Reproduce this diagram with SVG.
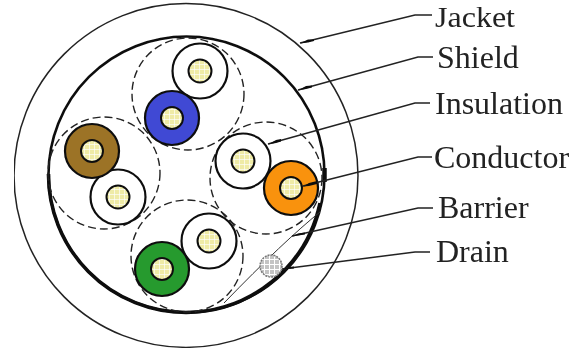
<svg xmlns="http://www.w3.org/2000/svg" width="586" height="350" viewBox="0 0 586 350">
<style>
text{font-family:"Liberation Serif","Times New Roman",serif;font-size:32px;fill:#222}
.dash{fill:none;stroke:#222;stroke-width:1.4;stroke-dasharray:8 4}
.wire{stroke:#111;stroke-width:2.2}
.core{fill:url(#grid);stroke:#111;stroke-width:2}
.lead{fill:none;stroke:#222;stroke-width:1.5}
.head{fill:#111;stroke:none}
</style>
<defs>
<filter id="soft" x="0" y="0" width="100%" height="100%"><feGaussianBlur stdDeviation="0.35"/></filter>
<pattern id="grid" width="5" height="5" patternUnits="userSpaceOnUse">
<rect width="5" height="5" fill="#efeba6"/>
<path d="M0 4.5H5M4.5 0V5" stroke="#fff" stroke-width="0.8" stroke-opacity="0.8"/>
</pattern>
<pattern id="ggrid" width="5" height="5" patternUnits="userSpaceOnUse">
<rect width="5" height="5" fill="#c4c4c4"/>
<path d="M0 4.5H5M4.5 0V5" stroke="#fff" stroke-width="1"/>
</pattern>
</defs>
<rect width="586" height="350" fill="#fff"/>
<g filter="url(#soft)">
<g id="jacket"><circle cx="186" cy="175.5" r="172" fill="none" stroke="#222" stroke-width="1.5"/></g>
<g id="shield">
<circle cx="186.5" cy="174.5" r="138" fill="none" stroke="#111" stroke-width="2.6"/>
<path d="M320 203A138 138 0 0 1 186 312.5A138 138 0 0 1 48.5 174" fill="none" stroke="#111" stroke-width="3.6"/>
<path d="M324.5 168V182" fill="none" stroke="#111" stroke-width="4.5"/>
</g>
<g id="barrier">
<circle class="dash" cx="188" cy="94" r="56"/>
<circle class="dash" cx="104" cy="173" r="56"/>
<circle class="dash" cx="266" cy="178" r="56"/>
<circle class="dash" cx="187" cy="256" r="56"/>
<path d="M320 212Q285 240 224 303" fill="none" stroke="#333" stroke-width="1"/>
</g>
<g id="pair-top">
<circle class="wire" cx="200" cy="71" r="27.5" fill="#fff"/>
<circle class="core" cx="200" cy="71" r="11.5"/>
<circle class="wire" cx="172" cy="118" r="27" fill="#3f48d4"/>
<circle class="core" cx="172" cy="118" r="11"/>
</g>
<g id="pair-left">
<circle class="wire" cx="118" cy="197" r="27.5" fill="#fff"/>
<circle class="core" cx="118" cy="197" r="11.5"/>
<circle class="wire" cx="92" cy="151" r="27" fill="#9c7326"/>
<circle class="core" cx="92" cy="151" r="11"/>
</g>
<g id="pair-right">
<circle class="wire" cx="243" cy="161" r="27.5" fill="#fff"/>
<circle class="core" cx="243" cy="161" r="11.5"/>
<circle class="wire" cx="291" cy="188" r="27" fill="#f9920b"/>
<circle class="core" cx="291" cy="188" r="11"/>
</g>
<g id="pair-bottom">
<circle class="wire" cx="209" cy="241" r="27.5" fill="#fff"/>
<circle class="core" cx="209" cy="241" r="11.5"/>
<circle class="wire" cx="162" cy="269" r="27" fill="#289a2e"/>
<circle class="core" cx="162" cy="269" r="11"/>
</g>
<g id="drain"><circle cx="271" cy="266" r="11" fill="url(#ggrid)" stroke="#777" stroke-width="1.5" stroke-dasharray="2 1"/></g>
<g id="connectors">
<path class="lead" d="M300 43L415 15H432"/><path class="head" d="M300 43.5L308 39.5L314 39.5L314 41L308 42.5Z"/>
<path class="lead" d="M298 90L418 57H433"/><path class="head" d="M298 90.5L306 86L312 85.5L312 87.5L306 89Z"/>
<path class="lead" d="M268 144L415 103H430"/><path class="head" d="M268 144.5L276 140L281 139L281 141.5L276 143Z"/>
<path class="lead" d="M303 186L418 157H432"/><path class="head" d="M303 186.5L309 183L317 181L317 184L309 186Z"/>
<path class="lead" d="M292 236L418 208H433"/><path class="head" d="M292 236.5L298 233.5L305 232.5L305 234.5L298 235.5Z"/>
<path class="lead" d="M282 269L415 252H430"/><path class="head" d="M282 269.5L288 267L294 266.5L294 268.5L288 269Z"/>
</g>
<g id="labels">
<text x="435" y="27.2" font-size="30.4" style="font-size:30.4px" textLength="80" lengthAdjust="spacingAndGlyphs">Jacket</text>
<text x="437" y="68">Shield</text>
<text x="435" y="114">Insulation</text>
<text x="434" y="168">Conductor</text>
<text x="438" y="218">Barrier</text>
<text x="436" y="262">Drain</text>
</g>
</g>
</svg>
